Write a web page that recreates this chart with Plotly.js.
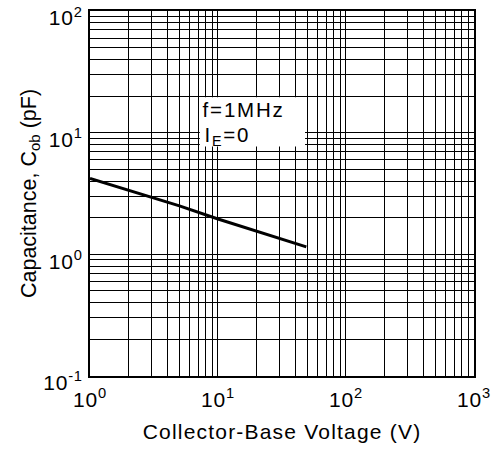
<!DOCTYPE html>
<html>
<head>
<meta charset="utf-8">
<script src="https://cdn.plot.ly/plotly-3.0.1.min.js"></script>
<style>
  html, body { margin: 0; padding: 0; background: #fff; }
  #chart { width: 494px; height: 456px; }
  /* slightly wide lettering for axis labels and the condition box */
  #chart .xtitle { letter-spacing: 1.2px; }
  #chart .xtick text, #chart .ytick text { letter-spacing: 0.8px; }
  #chart .annotation-text { letter-spacing: 1.8px; }
</style>
</head>
<body>
<div id="chart"></div>
<script>
// Output capacitance vs collector-base voltage (f = 1 MHz, IE = 0)
const voltage = [1, 2, 5, 10, 20, 49];
const capacitance = [4.2, 3.35, 2.5, 1.95, 1.55, 1.15];

// Labelled decades
const xMajorVals = [1, 10, 100, 1000];
const xMajorText = ['10<sup>0</sup>', '10<sup>1</sup>', '10<sup>2</sup>', '10<sup>3</sup>'];
const yMajorVals = [0.1, 1, 10, 100];
const yMajorText = ['10<sup>-1</sup>', '10<sup>0</sup>', '10<sup>1</sup>', '10<sup>2</sup>'];

// Unlabelled 2..9 grid lines inside each decade
const xMinorVals = [2,3,4,5,6,7,8,9,20,30,40,50,60,70,80,90,200,300,400,500,600,700,800,900];
const yMinorVals = [0.2,0.3,0.4,0.5,0.6,0.7,0.8,0.9,2,3,4,5,6,7,8,9,20,30,40,50,60,70,80,90];

// Test conditions shown in the white box
const conditions = ['f=1MHz', 'I<sub>E</sub>=0'];

const font = 'Liberation Sans, Arial, sans-serif';

const trace = {
  x: voltage,
  y: capacitance,
  type: 'scatter',
  mode: 'lines',
  line: { color: '#000', width: 3 },
  hoverinfo: 'skip'
};

const axisCommon = {
  type: 'log',
  tickmode: 'array',
  showgrid: true,
  gridcolor: '#000',
  gridwidth: 1,
  showline: true,
  linecolor: '#000',
  linewidth: 2,
  mirror: true,
  ticks: '',
  zeroline: false,
  ticklabeloverflow: 'allow',
  tickfont: { family: font, size: 21, color: '#000' }
};

const layout = {
  width: 494,
  height: 456,
  margin: { l: 90, r: 20, t: 11, b: 80 },
  paper_bgcolor: '#fff',
  plot_bgcolor: '#fff',
  showlegend: false,
  xaxis: Object.assign({}, axisCommon, {
    range: [0, 3.0004],
    tickvals: xMajorVals,
    ticktext: xMajorText,
    minor: { tickmode: 'array', tickvals: xMinorVals, showgrid: true, gridcolor: '#000', gridwidth: 1, ticks: '' },
    ticklabelstandoff: 4,
    title: { text: 'Collector-Base Voltage (V)', font: { family: font, size: 21, color: '#000' }, standoff: 14 }
  }),
  yaxis: Object.assign({}, axisCommon, {
    range: [-1.0004, 2.0004],
    tickvals: yMajorVals,
    ticktext: yMajorText,
    ticklabelshift: 7,
    minor: { tickmode: 'array', tickvals: yMinorVals, showgrid: true, gridcolor: '#000', gridwidth: 1, ticks: '' },
    ticklabelstandoff: 1,
    title: { text: 'Capacitance, C<sub>ob</sub> (pF)', font: { family: font, size: 21.5, color: '#000' }, standoff: 4 }
  }),
  shapes: [{
    type: 'rect',
    xref: 'paper', yref: 'paper',
    x0: 0.286, x1: 0.56, y0: 0.629, y1: 0.764,
    fillcolor: '#fff',
    line: { width: 0 },
    layer: 'above'
  }],
  annotations: [
    {
      xref: 'paper', yref: 'paper',
      x: 0.303, y: 0.7315,
      xanchor: 'left', yanchor: 'middle',
      text: conditions[0],
      showarrow: false,
      font: { family: font, size: 20.5, color: '#000' }
    },
    {
      xref: 'paper', yref: 'paper',
      x: 0.303, y: 0.657,
      xanchor: 'left', yanchor: 'middle',
      text: conditions[1],
      showarrow: false,
      font: { family: font, size: 20.5, color: '#000' }
    }
  ]
};

Plotly.newPlot('chart', [trace], layout, { displayModeBar: false, staticPlot: true });
</script>
</body>
</html>
